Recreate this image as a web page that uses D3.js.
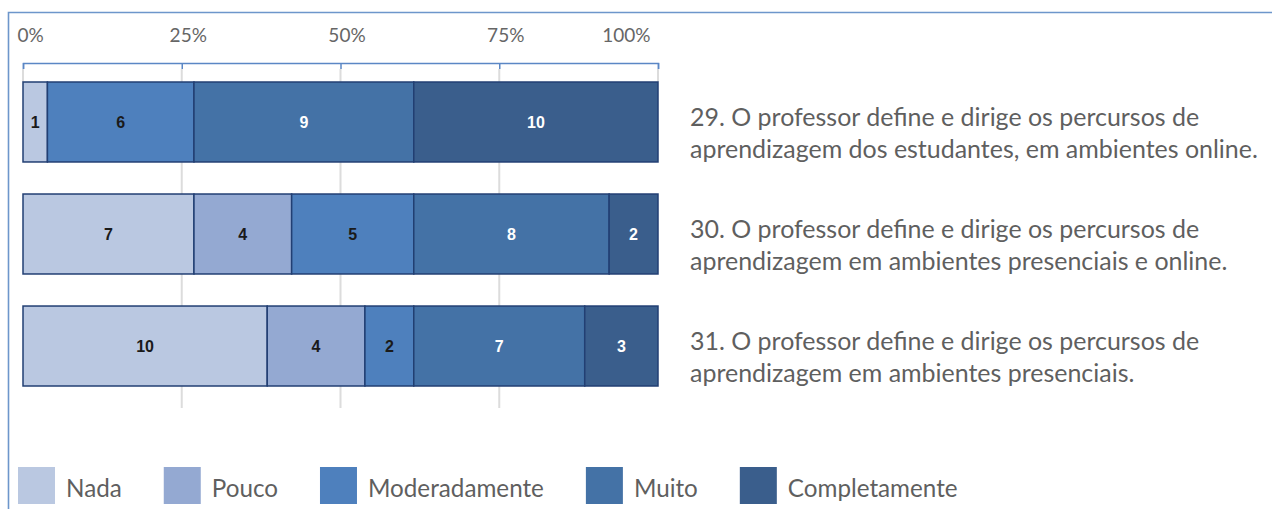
<!DOCTYPE html>
<html>
<head>
<meta charset="utf-8">
<script src="https://cdn.jsdelivr.net/npm/d3@7"></script>
<style>
  body { margin: 0; background: #fff; }
  svg { display: block; }
</style>
</head>
<body>
<script>
// Global consts
var w = 1272;
var h = 509;

// data
var categories = ["Nada", "Pouco", "Moderadamente", "Muito", "Completamente"];
var questionIds = ["29", "30", "31"];
var nada = [1, 7, 10];
var pouco = [0, 4, 4];
var moderadamente = [6, 5, 2];
var muito = [9, 8, 7];
var completamente = [10, 2, 3];
var questionLines = [
    ["29. O professor define e dirige os percursos de", "aprendizagem dos estudantes, em ambientes online."],
    ["30. O professor define e dirige os percursos de", "aprendizagem em ambientes presenciais e online."],
    ["31. O professor define e dirige os percursos de", "aprendizagem em ambientes presenciais."]
];
var tickValues = [0, 0.25, 0.5, 0.75, 1];
var tickLabels = ["0%", "25%", "50%", "75%", "100%"];

// styles
var colors = ["#bac8e1", "#94a9d2", "#4e80bd", "#4472a6", "#3a5e8c"];
var labelColors = ["#1a1a1a", "#1a1a1a", "#1a1a1a", "#ffffff", "#ffffff"];
var textGrey = "#5f5f5f";
var fontFamily = "Lato, 'Open Sans', sans-serif";

// build rows for the stack
var seriesValues = [nada, pouco, moderadamente, muito, completamente];
var rows = questionIds.map(function (q, i) {
    var row = { id: q };
    categories.forEach(function (c, j) { row[c] = seriesValues[j][i]; });
    return row;
});

// measure text so the substitute font takes the same width as the original
var ctx = document.createElement("canvas").getContext("2d");
function fitSize(txt, width, weight) {
    ctx.font = (weight || "normal") + " 100px " + fontFamily;
    return 100 * width / ctx.measureText(txt).width;
}
function textWidth(txt, size) {
    ctx.font = "normal " + size + "px " + fontFamily;
    return ctx.measureText(txt).width;
}

var svg = d3.select("body").append("svg")
    .attr("width", w)
    .attr("height", h);

// frame (chart area border, runs off the picture)
svg.append("path")
    .attr("d", "M8.5," + h + "V12.5H" + w)
    .attr("fill", "none")
    .attr("stroke", "#6d96cb")
    .attr("stroke-width", 1.6);

var x = d3.scaleLinear().domain([0, 1]).range([23, 658]);
var y = d3.scaleBand().domain(questionIds).range([82, 386]).paddingInner(0.286).paddingOuter(0);

var stack = d3.stack().keys(categories).offset(d3.stackOffsetExpand);
var series = stack(rows);

// gridlines
var axisY = 63;
svg.append("g")
    .selectAll("line")
    .data(tickValues)
    .enter().append("line")
    .attr("x1", function (d) { return x(d); })
    .attr("x2", function (d) { return x(d); })
    .attr("y1", axisY + 6)
    .attr("y2", function (d) { return (d === 0 || d === 1) ? y.range()[0] : 408; })
    .attr("stroke", "#dcdcdc")
    .attr("stroke-width", 2);

// axis on top, ticks pointing down
var axisSize = 19;
var axis = d3.axisTop(x)
    .tickValues(tickValues)
    .tickSizeInner(-6)
    .tickSizeOuter(-6)
    .tickPadding(21)
    .tickFormat(function (d, i) { return tickLabels[i]; });
var gAxis = svg.append("g")
    .attr("transform", "translate(0," + axisY + ")")
    .call(axis);
gAxis.select(".domain").attr("stroke", "#5b87c5").attr("stroke-width", 1.5);
gAxis.selectAll(".tick line").attr("stroke", "#5b87c5").attr("stroke-width", 1.5);
gAxis.selectAll(".tick text")
    .attr("font-family", fontFamily)
    .attr("font-size", axisSize)
    .attr("fill", "#666666")
    .attr("text-anchor", function (d) { return d === 0 ? "start" : (d === 1 ? "end" : "middle"); })
    .attr("dx", function (d) { return d === 0 ? -6 : (d === 1 ? -8 : 6); });

// bars
var layers = svg.append("g")
    .selectAll("g")
    .data(series)
    .enter().append("g")
    .attr("fill", function (d, i) { return colors[i]; });

layers.selectAll("rect")
    .data(function (d) { return d.filter(function (s) { return s[1] - s[0] > 0; }); })
    .enter().append("rect")
    .attr("x", function (d) { return x(d[0]); })
    .attr("y", function (d) { return y(d.data.id); })
    .attr("width", function (d) { return x(d[1]) - x(d[0]); })
    .attr("height", y.bandwidth())
    .attr("stroke", "#223f73")
    .attr("stroke-width", 1.5);

// value labels
layers.each(function (s, i) {
    d3.select(this).selectAll("text")
        .data(s.filter(function (d) { return d[1] - d[0] > 0; }))
        .enter().append("text")
        .attr("x", function (d) { return (x(d[0]) + x(d[1])) / 2; })
        .attr("y", function (d) { return y(d.data.id) + y.bandwidth() / 2; })
        .attr("dy", "0.36em")
        .attr("text-anchor", "middle")
        .attr("font-family", "'Liberation Sans', Arial, sans-serif")
        .attr("font-weight", "bold")
        .attr("font-size", 16)
        .attr("fill", labelColors[i])
        .text(function (d) { return d.data[s.key]; });
});

// question texts on the right
var qSize = fitSize(questionLines[0][0], 510);
var qText = svg.append("g")
    .selectAll("text")
    .data(questionIds)
    .enter().append("text")
    .attr("font-family", fontFamily)
    .attr("font-size", qSize)
    .attr("fill", textGrey)
    .attr("y", function (d) { return y(d) + y.bandwidth() / 2; });
qText.selectAll("tspan")
    .data(function (d, i) { return questionLines[i]; })
    .enter().append("tspan")
    .attr("x", 690)
    .attr("dy", function (d, i) { return i === 0 ? 4 : 32; })
    .text(function (d) { return d; });

// legend
var legSize = fitSize("Moderadamente", 176);
var legend = svg.append("g").attr("id", "legend");
var lx = 18;
categories.forEach(function (c, i) {
    legend.append("rect")
        .attr("x", lx)
        .attr("y", 467)
        .attr("width", 37)
        .attr("height", 37)
        .attr("fill", colors[i]);
    legend.append("text")
        .attr("x", lx + 48)
        .attr("y", 497)
        .attr("font-family", fontFamily)
        .attr("font-size", legSize)
        .attr("fill", textGrey)
        .text(c);
    lx = lx + 48 + textWidth(c, legSize) + 42;
});
</script>
</body>
</html>
